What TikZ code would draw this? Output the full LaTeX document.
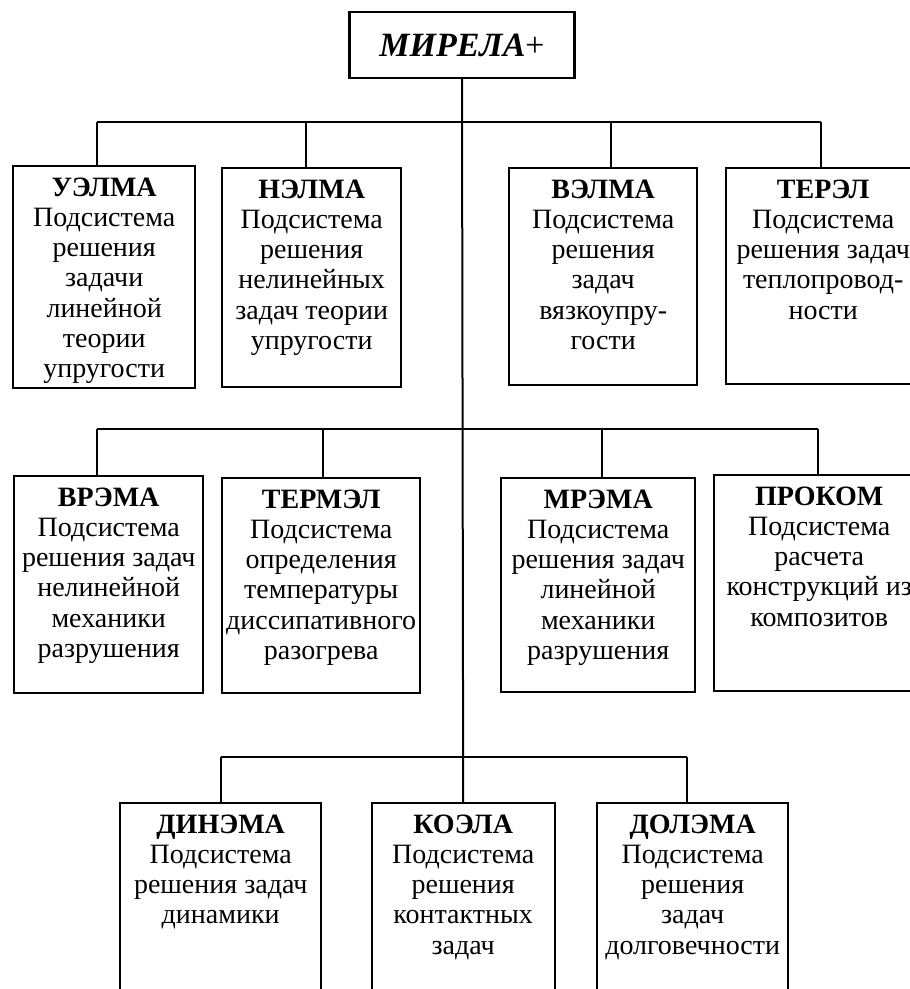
\documentclass[tikz,border=0pt]{standalone}
\usepackage{fontspec}
\setmainfont{Liberation Serif}
\newcommand{\sysname}[1]{\textbf{#1}}
\newcommand{\subsys}[4]{\parbox[t][#2][t]{#1}{\centering\rule{0pt}{30pt}\sysname{#3}\\#4}}
\tikzset{sysbox/.style={draw,line width=2.4pt,inner sep=0pt,anchor=north west,
  font=\fontsize{28}{30.2}\selectfont}}

\begin{document}
\begin{tikzpicture}[x=1pt,y=-1pt,line width=2pt]
    \useasboundingbox (0,0) rectangle (910,989);
    \clip (0,0) rectangle (910,989);

    % Root of the system
    \node[draw,line width=2.4pt,minimum width=225pt,minimum height=66pt,inner sep=0pt,
      font=\fontsize{34}{36}\selectfont] (M) at (462,45) {\textbf{\textit{МИРЕЛА}}+};

    % First row of subsystems
    \begin{scope}[every node/.style={sysbox}]
      \node (UE) at ( 12,165) {\subsys{182pt}{222pt}{УЭЛМА}{Подсистема\\решения\\задачи\\линейной\\теории\\упругости}};
      \node (NE) at (221,167) {\subsys{179pt}{219pt}{НЭЛМА}{Подсистема\\решения\\нелинейных\\задач теории\\упругости}};
      \node (VE) at (508,167) {\subsys{188pt}{217pt}{ВЭЛМА}{Подсистема\\решения\\задач\\вязкоупру-\\гости}};
      \node (TR) at (725,167) {\subsys{194pt}{216pt}{ТЕРЭЛ}{Подсистема\\решения задач\\теплопровод-\\ности}};
    \end{scope}

    % Second row of subsystems
    \begin{scope}[every node/.style={sysbox}]
      \node (VR) at ( 13,475) {\subsys{189pt}{217pt}{ВРЭМА}{Подсистема\\решения задач\\нелинейной\\механики\\разрушения}};
      \node (TM) at (221,477) {\subsys{198pt}{215pt}{ТЕРМЭЛ}{Подсистема\\определения\\температуры\\диссипативного\\разогрева}};
      \node (MR) at (500,477) {\subsys{194pt}{214pt}{МРЭМА}{Подсистема\\решения задач\\линейной\\механики\\разрушения}};
      \node (PK) at (713,474) {\subsys{210pt}{216pt}{ПРОКОМ}{Подсистема\\расчета\\конструкций из\\композитов}};
    \end{scope}

    % Third row of subsystems
    \begin{scope}[every node/.style={sysbox}]
      \node (DN) at (119,802) {\subsys{201pt}{230pt}{ДИНЭМА}{Подсистема\\решения задач\\динамики}};
      \node (KO) at (370.5,802) {\subsys{183pt}{230pt}{КОЭЛА}{Подсистема\\решения\\контактных\\задач}};
      \node (DL) at (596,802) {\subsys{191pt}{230pt}{ДОЛЭМА}{Подсистема\\решения\\задач\\долговечности}};
    \end{scope}

    % Branch points on the bars
    \coordinate (A1) at ( 97,122);
    \coordinate (A2) at (306,122);
    \coordinate (A3) at (611,122);
    \coordinate (A4) at (821,122);
    \coordinate (B1) at ( 97,429);
    \coordinate (B2) at (323,429);
    \coordinate (B3) at (602,429);
    \coordinate (B4) at (818,429);
    \coordinate (C1) at (220.5,757);
    \coordinate (C3) at (687,757);

    % Trunk and bars
    \draw (M.south) -- (KO.north);
    \draw (A1) -- (A4)
          (B1) -- (B4)
          (C1) -- (C3);

    % Drops to the boxes
    \draw
      (A1) -- (A1 |- UE.north)
      (A2) -- (A2 |- NE.north)
      (A3) -- (A3 |- VE.north)
      (A4) -- (A4 |- TR.north)
      (B1) -- (B1 |- VR.north)
      (B2) -- (B2 |- TM.north)
      (B3) -- (B3 |- MR.north)
      (B4) -- (B4 |- PK.north)
      (C1) -- (C1 |- DN.north)
      (C3) -- (C3 |- DL.north);

\end{tikzpicture}
\end{document}
